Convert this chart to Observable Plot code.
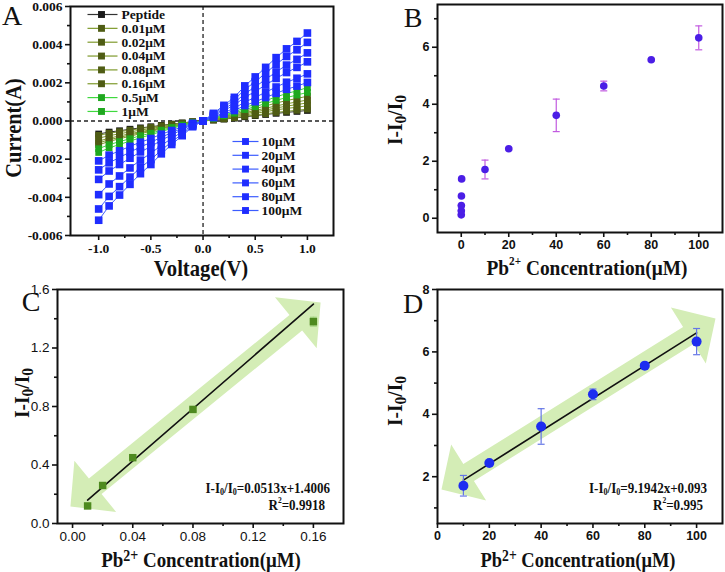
<!DOCTYPE html>
<html><head><meta charset="utf-8">
<script src="https://cdn.jsdelivr.net/npm/d3@7"></script>
<script src="https://cdn.jsdelivr.net/npm/@observablehq/plot@0.6"></script>
<style>
body{margin:0;background:#fff;}
#fig{position:relative;width:725px;height:572px;overflow:hidden;background:#fff;}
#fig svg{position:absolute;overflow:visible;background:transparent;}
.lab{position:absolute;white-space:nowrap;font-family:"Liberation Serif","Times New Roman",serif;font-weight:bold;color:#111;line-height:1;}
.sb{font-size:.8em;position:relative;top:.25em;}
.sbs{font-size:.62em;position:relative;top:.22em;}
.sp{font-size:.58em;position:relative;top:-.75em;}
.spL{font-size:.74em;position:relative;top:-.38em;}
</style></head><body><div id="fig"></div>
<script>
// ---------------- DATA ----------------
// Panel A: I–V curves (current in mA)
const voltages = [-1.0,-0.9,-0.8,-0.7,-0.6,-0.5,-0.4,-0.3,-0.2,-0.1,0.0,0.1,0.2,0.3,0.4,0.5,0.6,0.7,0.8,0.9,1.0];
const seriesNames = ["Peptide","0.01μM","0.02μM","0.04μM","0.08μM","0.16μM","0.5μM","1μM","10μM","20μM","40μM","60μM","80μM","100μM"];
const currents_mA = [
  [-0.68,-0.58,-0.51,-0.43,-0.36,-0.30,-0.23,-0.16,-0.10,-0.04,0,0.05,0.10,0.15,0.22,0.28,0.34,0.40,0.45,0.50,0.55],
  [-0.75,-0.64,-0.56,-0.48,-0.40,-0.33,-0.25,-0.18,-0.11,-0.04,0,0.05,0.11,0.17,0.25,0.31,0.38,0.45,0.51,0.56,0.62],
  [-0.90,-0.77,-0.67,-0.57,-0.48,-0.39,-0.30,-0.21,-0.13,-0.05,0,0.07,0.14,0.22,0.32,0.40,0.49,0.58,0.66,0.72,0.80],
  [-1.05,-0.90,-0.78,-0.67,-0.56,-0.46,-0.35,-0.25,-0.16,-0.06,0,0.08,0.17,0.26,0.38,0.48,0.58,0.68,0.78,0.86,0.95],
  [-1.15,-0.98,-0.86,-0.73,-0.61,-0.50,-0.38,-0.27,-0.17,-0.07,0,0.10,0.20,0.30,0.44,0.55,0.67,0.79,0.90,1.00,1.10],
  [-1.25,-1.07,-0.93,-0.80,-0.66,-0.55,-0.41,-0.30,-0.19,-0.07,0,0.11,0.23,0.35,0.52,0.65,0.79,0.94,1.07,1.18,1.30],
  [-1.45,-1.24,-1.08,-0.93,-0.77,-0.64,-0.48,-0.34,-0.21,-0.08,0,0.13,0.27,0.41,0.60,0.75,0.92,1.08,1.23,1.36,1.50],
  [-1.65,-1.41,-1.23,-1.05,-0.88,-0.72,-0.55,-0.39,-0.24,-0.10,0,0.15,0.31,0.47,0.70,0.88,1.07,1.26,1.44,1.58,1.75],
  [-2.09,-1.79,-1.56,-1.33,-1.11,-0.92,-0.69,-0.50,-0.31,-0.12,0,0.18,0.36,0.55,0.81,1.01,1.23,1.45,1.66,1.83,2.02],
  [-2.56,-2.19,-1.91,-1.63,-1.36,-1.12,-0.85,-0.61,-0.38,-0.15,0,0.21,0.44,0.67,0.99,1.24,1.51,1.78,2.03,2.24,2.47],
  [-3.06,-2.62,-2.28,-1.95,-1.62,-1.34,-1.01,-0.73,-0.45,-0.18,0,0.27,0.55,0.84,1.24,1.55,1.89,2.23,2.54,2.81,3.10],
  [-3.86,-3.30,-2.88,-2.46,-2.05,-1.69,-1.28,-0.91,-0.57,-0.22,0,0.31,0.64,0.96,1.43,1.79,2.18,2.57,2.93,3.23,3.57],
  [-4.61,-3.95,-3.44,-2.94,-2.45,-2.02,-1.53,-1.09,-0.68,-0.27,0,0.36,0.73,1.11,1.65,2.06,2.51,2.97,3.38,3.73,4.12],
  [-5.20,-4.45,-3.88,-3.32,-2.76,-2.28,-1.72,-1.23,-0.77,-0.30,0,0.40,0.82,1.24,1.84,2.31,2.81,3.32,3.78,4.17,4.61]
];
// Panels B–D: response vs Pb2+ concentration
const concentrations = [0.01,0.02,0.04,0.08,0.16,10,20,40,60,80,100];
const response = [0.12,0.26,0.45,0.78,1.38,1.71,2.44,3.61,4.64,5.56,6.33];
const responseErr = [0.01,0.01,0.01,0.01,0.03,0.33,0.03,0.57,0.17,0.03,0.42];
// fitted lines (end points)
const fitC_x = [0.01,0.16], fitC_y = [0.16,1.50];
const fitD_x = [10,100], fitD_y = [1.89,6.61];
// decorative double arrows (tip positions in data units)
const arrowC_x = [-0.0014,0.1648], arrowC_y = [0.116,1.511];
const arrowD_x = [1.54,107.3], arrowD_y = [1.59,7.07];
// tick values
const ticksA_x = [-1,-0.5,0,0.5,1], minorA_x = [-0.75,-0.25,0.25,0.75];
const ticksA_y = [-0.006,-0.004,-0.002,0,0.002,0.004,0.006], minorA_y = [-0.005,-0.003,-0.001,0.001,0.003,0.005];
const ticksB_x = [0,20,40,60,80,100], minorB_x = [10,30,50,70,90];
const ticksB_y = [0,2,4,6], minorB_y = [1,3,5,7];
const ticksC_x = [0,0.04,0.08,0.12,0.16], minorC_x = [0.02,0.06,0.10,0.14];
const ticksC_y = [0,0.4,0.8,1.2,1.6], minorC_y = [0.2,0.6,1.0,1.4];
const ticksD_x = [0,20,40,60,80,100], minorD_x = [10,30,50,70,90];
const ticksD_y = [2,4,6,8], minorD_y = [1,3,5,7];

// ---------------- STYLE ----------------
const SERIF = "'Liberation Serif','Times New Roman',serif";
const SANS = "'Liberation Sans',Arial,sans-serif";
const olive = "#7f9a2c", oliveM = "#4f5c14", green = "#3fd93f", greenM = "#1fa81f", blue = "#3c5cff", blueM = "#1f2dff";
const seriesLine = ["#333333", olive, olive, olive, olive, olive, green, green, blue, blue, blue, blue, blue, blue];
const seriesFill = ["#1a1a1a", oliveM, oliveM, oliveM, oliveM, oliveM, greenM, greenM, blueM, blueM, blueM, blueM, blueM, blueM];
const arrowColor = "#d4edb6";

const fig = document.getElementById("fig");
function place(svg, left, top){ svg.style.left = left + "px"; svg.style.top = top + "px"; fig.appendChild(svg); }
function label(html, x, y, o = {}){
  const d = document.createElement("div");
  d.className = "lab";
  d.innerHTML = html;
  const size = o.size || 22, sx = o.sx || 1, rot = o.rot || 0;
  d.style.fontSize = size + "px";
  if (o.weight) d.style.fontWeight = o.weight;
  d.style.left = x + "px"; d.style.top = y + "px";
  if (o.anchor === "end") { d.style.transformOrigin = "100% 50%"; d.style.transform = `translate(-100%,-50%) rotate(${rot}deg) scaleX(${sx})`; }
  else { d.style.transformOrigin = "50% 50%"; d.style.transform = `translate(-50%,-50%) rotate(${rot}deg) scaleX(${sx})`; }
  fig.appendChild(d);
}
function axes(tx, mx, ty, my, fx, fy, font){
  const t = {tickSize:5, tickPadding:3, strokeWidth:1.6, label:null, fontSize:font.size, fontWeight:font.weight, fontFamily:font.family};
  const m = {tickSize:3, strokeWidth:1.6, label:null, tickFormat:() => ""};
  return [
    Plot.axisX(tx, {...t, anchor:"bottom", tickFormat:fx}),
    Plot.axisX(mx, {...m, anchor:"bottom"}),
    Plot.axisY(ty, {...t, anchor:"left", tickFormat:fy}),
    Plot.axisY(my, {...m, anchor:"left"}),
    Plot.frame({stroke:"#111", strokeWidth:2})
  ];
}
function arrowPolygon(xs, ys, sx, sy, L = 32, H = 33, S = 10){
  const p0 = [sx(xs[0]), sy(ys[0])], p1 = [sx(xs[1]), sy(ys[1])];
  const dx = p1[0]-p0[0], dy = p1[1]-p0[1], len = Math.hypot(dx, dy);
  const u = [dx/len, dy/len], n = [-u[1], u[0]];
  const pt = (b, a, c) => [b[0] + u[0]*a + n[0]*c, b[1] + u[1]*a + n[1]*c];
  const pts = [p0, pt(p0,L,H), pt(p0,L,S), pt(p1,-L,S), pt(p1,-L,H), p1, pt(p1,-L,-H), pt(p1,-L,-S), pt(p0,L,-S), pt(p0,L,-H)];
  return pts.map(([px, py]) => ({x: sx.invert(px), y: sy.invert(py)}));
}
const capSymbol = {draw(ctx){ ctx.moveTo(-3.5, 0); ctx.lineTo(3.5, 0); }};
function errorBars(rows, color){
  return [
    Plot.ruleX(rows, {x:"c", y1:d => d.r - d.e, y2:d => d.r + d.e, stroke:color, strokeWidth:1.2}),
    Plot.dot(rows, {x:"c", y:d => d.r - d.e, symbol:capSymbol, stroke:color, fill:"none", strokeWidth:1.2}),
    Plot.dot(rows, {x:"c", y:d => d.r + d.e, symbol:capSymbol, stroke:color, fill:"none", strokeWidth:1.2})
  ];
}
const respRows = concentrations.map((c, k) => ({c, r: response[k], e: responseErr[k]}));

// ---------------- PANEL A ----------------
{
  const W = 360, H = 280, ml = 70, mr = 27, mt = 6, mb = 45;
  const xd = [-1.27, 1.25], yd = [-0.006, 0.006];
  const sx = d3.scaleLinear(xd, [ml, W - mr]), sy = d3.scaleLinear(yd, [H - mb, mt]);
  const rows = seriesNames.map((name, s) => voltages.map((v, k) => ({v, i: currents_mA[s][k] / 1000})));
  const leg1 = seriesNames.slice(0, 8).map((name, k) => ({s:k, name, py: 14 + k*13.85, x1: 87, x2: 117, xm: 101, xt: 121}));
  const leg2 = seriesNames.slice(8).map((name, k) => ({s:8+k, name, py: 141 + k*13.8, x1: 232, x2: 258, xm: 245, xt: 261}));
  const leg = leg1.concat(leg2);
  const plot = Plot.plot({
    width: W, height: H, marginLeft: ml, marginRight: mr, marginTop: mt, marginBottom: mb,
    x: {domain: xd}, y: {domain: yd}, color: {type: "identity"},
    style: {fontFamily: SERIF, fontSize: "13px", fontWeight: "bold", color: "#111", background: "transparent", overflow: "visible"},
    marks: [
      Plot.ruleX([0], {stroke:"#222", strokeDasharray:"4,3", strokeWidth:1.3}),
      Plot.ruleY([0], {stroke:"#222", strokeDasharray:"4,3", strokeWidth:1.3}),
      ...rows.flatMap((r, s) => [
        Plot.line(r, {x:"v", y:"i", stroke: seriesLine[s], strokeWidth: 1}),
        Plot.dot(r, {x:"v", y:"i", symbol:"square", r: s >= 8 ? 4.3 : 3.8, fill: seriesFill[s], stroke:"none"})
      ]),
      Plot.link(leg, {x1: d => sx.invert(d.x1), x2: d => sx.invert(d.x2), y1: d => sy.invert(d.py), y2: d => sy.invert(d.py), stroke: d => seriesLine[d.s], strokeWidth: 1.2}),
      Plot.dot(leg, {x: d => sx.invert(d.xm), y: d => sy.invert(d.py), symbol:"square", r: 3.9, fill: d => seriesFill[d.s], stroke:"none"}),
      Plot.text(leg, {x: d => sx.invert(d.xt), y: d => sy.invert(d.py), text:"name", textAnchor:"start", fontSize:13.5, fontWeight:"bold", fontFamily:SERIF, fill:"#111"}),
      ...axes(ticksA_x, minorA_x, ticksA_y, minorA_y, d => d.toFixed(1), d => d.toFixed(3), {size:13.5, weight:"bold", family:SERIF})
    ]
  });
  place(plot, 0, 0);
}

// ---------------- PANEL B ----------------
{
  const W = 365, H = 280, ml = 77, mr = 3, mt = 4, mb = 48;
  const plot = Plot.plot({
    width: W, height: H, marginLeft: ml, marginRight: mr, marginTop: mt, marginBottom: mb,
    x: {domain: [-10, 110]}, y: {domain: [-0.5, 7.5]},
    style: {fontFamily: SANS, fontSize: "12.5px", fontWeight: "bold", color: "#111", background: "transparent", overflow: "visible"},
    marks: [
      ...errorBars(respRows, "#c25be0"),
      Plot.dot(respRows, {x:"c", y:"r", r:3.8, fill:"#4b1ee6", stroke:"none"}),
      ...axes(ticksB_x, minorB_x, ticksB_y, minorB_y, d => String(d), d => String(d), {size:12.5, weight:"bold", family:SANS})
    ]
  });
  place(plot, 360, 0);
}

// ---------------- PANEL C ----------------
{
  const W = 360, H = 292, ml = 57, mr = 17, mt = 9, mb = 49;
  const xd = [-0.01, 0.18], yd = [0, 1.6];
  const sx = d3.scaleLinear(xd, [ml, W - mr]), sy = d3.scaleLinear(yd, [H - mb, mt]);
  const low = respRows.filter(d => d.c < 1);
  const fit = fitC_x.map((x, k) => ({x, y: fitC_y[k]}));
  const plot = Plot.plot({
    width: W, height: H, marginLeft: ml, marginRight: mr, marginTop: mt, marginBottom: mb,
    x: {domain: xd}, y: {domain: yd},
    style: {fontFamily: SANS, fontSize: "13.5px", color: "#111", background: "transparent", overflow: "visible"},
    marks: [
      Plot.line(arrowPolygon(arrowC_x, arrowC_y, sx, sy), {x:"x", y:"y", curve:"linear-closed", fill: arrowColor, stroke:"none"}),
      Plot.line(fit, {x:"x", y:"y", stroke:"#111", strokeWidth:1.6}),
      ...errorBars(low, "#9fd07a"),
      Plot.dot(low, {x:"c", y:"r", symbol:"square", r:4.2, fill:"#4e8a1f", stroke:"none"}),
      ...axes(ticksC_x, minorC_x, ticksC_y, minorC_y, d => d.toFixed(2), d => d.toFixed(1), {size:13.5, weight:"normal", family:SANS})
    ]
  });
  place(plot, 0, 280);
}

// ---------------- PANEL D ----------------
{
  const W = 365, H = 292, ml = 77, mr = 3, mt = 9, mb = 49;
  const xd = [0, 110], yd = [0.5, 8];
  const sx = d3.scaleLinear(xd, [ml, W - mr]), sy = d3.scaleLinear(yd, [H - mb, mt]);
  const high = respRows.filter(d => d.c >= 1);
  const fit = fitD_x.map((x, k) => ({x, y: fitD_y[k]}));
  const plot = Plot.plot({
    width: W, height: H, marginLeft: ml, marginRight: mr, marginTop: mt, marginBottom: mb,
    x: {domain: xd}, y: {domain: yd},
    style: {fontFamily: SANS, fontSize: "12.5px", fontWeight: "bold", color: "#111", background: "transparent", overflow: "visible"},
    marks: [
      Plot.line(arrowPolygon(arrowD_x, arrowD_y, sx, sy), {x:"x", y:"y", curve:"linear-closed", fill: arrowColor, stroke:"none"}),
      Plot.line(fit, {x:"x", y:"y", stroke:"#111", strokeWidth:1.6}),
      ...errorBars(high, "#6577e6"),
      Plot.dot(high, {x:"c", y:"r", r:5, fill:"#1d2cf0", stroke:"none"}),
      ...axes(ticksD_x, minorD_x, ticksD_y, minorD_y, d => String(d), d => String(d), {size:12.5, weight:"bold", family:SANS})
    ]
  });
  place(plot, 360, 280);
}

// ---------------- TEXT LABELS ----------------
const yTitle = 'I-I<span class="sb">0</span>/I<span class="sb">0</span>';
label("A", 12, 16, {size:28, weight:"normal"});
label("B", 413, 18, {size:28, weight:"normal"});
label("C", 31, 302, {size:28, weight:"normal"});
label("D", 413, 304, {size:28, weight:"normal"});
label("Current(A)", 13, 128, {size:24, sx:0.85, rot:-90});
label("Voltage(V)", 201, 268, {size:24, sx:0.86});
label(yTitle, 395, 120, {size:22, sx:0.88, rot:-90});
label('Pb<span class="sp">2+</span> Concentration(μM)', 587, 268, {size:22, sx:0.88});
label(yTitle, 22, 393, {size:22, sx:0.88, rot:-90});
label('Pb<span class="spL">2+</span> Concentration(μM)', 201, 560, {size:22, sx:0.86});
label(yTitle, 395, 401, {size:22, sx:0.88, rot:-90});
label('Pb<span class="spL">2+</span> Concentration(μM)', 578, 560, {size:22, sx:0.84});
label('I-I<span class="sbs">0</span>/I<span class="sbs">0</span>=0.0513x+1.4006', 330, 488, {size:15, sx:0.87, anchor:"end"});
label('R<span class="sp">2</span>=0.9918', 325, 505, {size:15, sx:0.87, anchor:"end"});
label('I-I<span class="sbs">0</span>/I<span class="sbs">0</span>=9.1942x+0.093', 707, 488, {size:15, sx:0.87, anchor:"end"});
label('R<span class="sp">2</span>=0.995', 703, 505, {size:15, sx:0.87, anchor:"end"});
</script>
</body></html>
